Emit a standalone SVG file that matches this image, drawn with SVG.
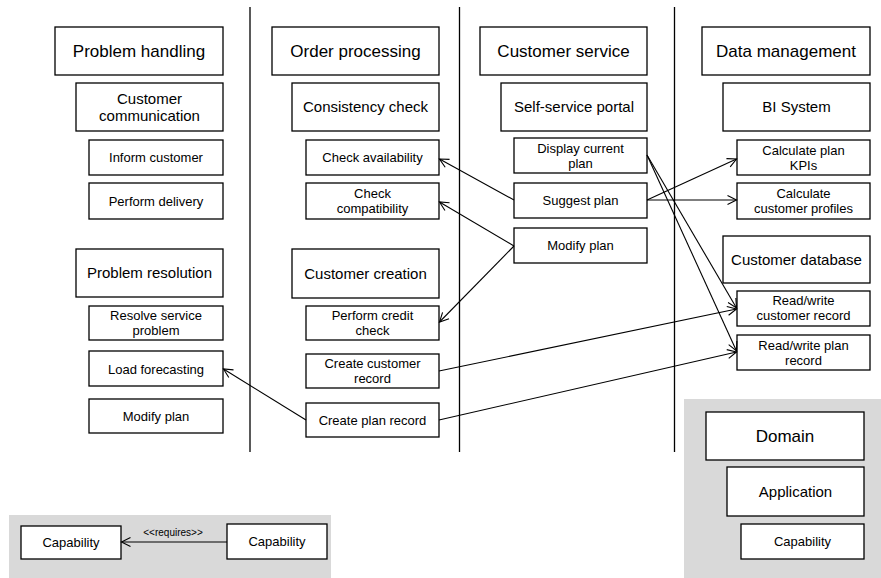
<svg xmlns="http://www.w3.org/2000/svg" width="881" height="578" viewBox="0 0 881 578">
<style>
.box{fill:#fff;stroke:#000;stroke-width:1.3}
.t{font-family:"Liberation Sans",Arial,sans-serif;fill:#000;text-anchor:middle}
.t1{font-size:17px}
.t2{font-size:15px}
.t3{font-size:13px}
.lane{stroke:#000;stroke-width:1.3}
.c{fill:none;stroke:#000;stroke-width:1.1;marker-end:url(#a)}
.bg{fill:#d9d9d9}
</style>
<defs>
<marker id="a" markerUnits="userSpaceOnUse" markerWidth="12" markerHeight="12" viewBox="-10 -6 12 12" refX="0" refY="0" orient="auto">
<path d="M-9,-4.5 L0,0 L-9,4.5" fill="none" stroke="#000" stroke-width="1.1"/>
</marker>
</defs>
<rect width="881" height="578" fill="#fff"/>
<g id="lanes">
<line class="lane" x1="250" y1="7" x2="250" y2="452"/>
<line class="lane" x1="459.5" y1="7" x2="459.5" y2="452"/>
<line class="lane" x1="674.5" y1="7" x2="674.5" y2="452"/>
</g>
<g id="legend-bg">
<rect class="bg" x="9" y="515" width="322" height="63"/>
<rect class="bg" x="684" y="399" width="197" height="179"/>
</g>
<g id="problem-handling"><rect class="box" x="55" y="27" width="168" height="48"/><text class="t t1" x="139" y="57">Problem handling</text></g>
<g id="customer-communication"><rect class="box" x="76" y="83" width="147" height="48"/><text class="t t2" x="149.5" y="103.5">Customer</text><text class="t t2" x="149.5" y="120.5">communication</text></g>
<g id="inform-customer"><rect class="box" x="89" y="140" width="134" height="35"/><text class="t t3" x="156" y="162">Inform customer</text></g>
<g id="perform-delivery"><rect class="box" x="89" y="183" width="134" height="36"/><text class="t t3" x="156" y="205.5">Perform delivery</text></g>
<g id="problem-resolution"><rect class="box" x="76" y="249" width="147" height="48"/><text class="t t2" x="149.5" y="278">Problem resolution</text></g>
<g id="resolve-service-problem"><rect class="box" x="89" y="306" width="134" height="34"/><text class="t t3" x="156" y="320">Resolve service</text><text class="t t3" x="156" y="335">problem</text></g>
<g id="load-forecasting"><rect class="box" x="89" y="351" width="134" height="35"/><text class="t t3" x="156" y="373.5">Load forecasting</text></g>
<g id="modify-plan-left"><rect class="box" x="89" y="399" width="134" height="34"/><text class="t t3" x="156" y="420.5">Modify plan</text></g>

<g id="order-processing"><rect class="box" x="272" y="27" width="167" height="48"/><text class="t t1" x="355.5" y="57">Order processing</text></g>
<g id="consistency-check"><rect class="box" x="292" y="83" width="147" height="48"/><text class="t t2" x="365.5" y="112">Consistency check</text></g>
<g id="check-availability"><rect class="box" x="306" y="140" width="133" height="35"/><text class="t t3" x="372.5" y="162">Check availability</text></g>
<g id="check-compatibility"><rect class="box" x="306" y="183" width="133" height="36"/><text class="t t3" x="372.5" y="198">Check</text><text class="t t3" x="372.5" y="213">compatibility</text></g>
<g id="customer-creation"><rect class="box" x="292" y="249" width="147" height="49"/><text class="t t2" x="365.5" y="278.5">Customer creation</text></g>
<g id="perform-credit-check"><rect class="box" x="306" y="306" width="133" height="34"/><text class="t t3" x="372.5" y="320">Perform credit</text><text class="t t3" x="372.5" y="335">check</text></g>
<g id="create-customer-record"><rect class="box" x="306" y="354" width="133" height="34"/><text class="t t3" x="372.5" y="368">Create customer</text><text class="t t3" x="372.5" y="383">record</text></g>
<g id="create-plan-record"><rect class="box" x="306" y="403" width="133" height="34"/><text class="t t3" x="372.5" y="424.5">Create plan record</text></g>

<g id="customer-service"><rect class="box" x="480" y="27" width="167" height="48"/><text class="t t1" x="563.5" y="57">Customer service</text></g>
<g id="self-service-portal"><rect class="box" x="501" y="83" width="146" height="48"/><text class="t t2" x="574" y="112">Self-service portal</text></g>
<g id="display-current-plan"><rect class="box" x="514" y="138" width="133" height="35"/><text class="t t3" x="580.5" y="152.5">Display current</text><text class="t t3" x="580.5" y="167.5">plan</text></g>
<g id="suggest-plan"><rect class="box" x="514" y="183" width="133" height="35"/><text class="t t3" x="580.5" y="205">Suggest plan</text></g>
<g id="modify-plan"><rect class="box" x="514" y="228" width="133" height="35"/><text class="t t3" x="580.5" y="250">Modify plan</text></g>

<g id="data-management"><rect class="box" x="702" y="27" width="168" height="48"/><text class="t t1" x="786" y="57">Data management</text></g>
<g id="bi-system"><rect class="box" x="723" y="83" width="147" height="48"/><text class="t t2" x="796.5" y="112">BI System</text></g>
<g id="calculate-plan-kpis"><rect class="box" x="737" y="140" width="133" height="35"/><text class="t t3" x="803.5" y="154.5">Calculate plan</text><text class="t t3" x="803.5" y="169.5">KPIs</text></g>
<g id="calculate-customer-profiles"><rect class="box" x="737" y="183" width="133" height="36"/><text class="t t3" x="803.5" y="198">Calculate</text><text class="t t3" x="803.5" y="213">customer profiles</text></g>
<g id="customer-database"><rect class="box" x="723" y="236" width="147" height="47"/><text class="t t2" x="796.5" y="264.5">Customer database</text></g>
<g id="rw-customer-record"><rect class="box" x="737" y="291" width="133" height="35"/><text class="t t3" x="803.5" y="305">Read/write</text><text class="t t3" x="803.5" y="320">customer record</text></g>
<g id="rw-plan-record"><rect class="box" x="737" y="335" width="133" height="35"/><text class="t t3" x="803.5" y="349.5">Read/write plan</text><text class="t t3" x="803.5" y="364.5">record</text></g>

<g id="legend-domain"><rect class="box" x="706" y="412" width="158" height="48"/><text class="t t1" x="785" y="442">Domain</text></g>
<g id="legend-application"><rect class="box" x="727" y="467" width="137" height="49"/><text class="t t2" x="795.5" y="496.5">Application</text></g>
<g id="legend-capability"><rect class="box" x="741" y="524" width="123" height="35"/><text class="t t3" x="802.5" y="546">Capability</text></g>
<g id="legend-cap-left"><rect class="box" x="21" y="526" width="100" height="33"/><text class="t t3" x="71" y="547">Capability</text></g>
<g id="legend-cap-right"><rect class="box" x="227" y="524" width="100" height="35"/><text class="t t3" x="277" y="546">Capability</text></g>

<g id="connectors">
<line class="c" x1="514" y1="200" x2="439.5" y2="159"/>
<line class="c" x1="514" y1="246" x2="439.5" y2="202"/>
<line class="c" x1="514" y1="246" x2="439.5" y2="322"/>
<line class="c" x1="647" y1="200" x2="736.5" y2="159"/>
<line class="c" x1="647" y1="200" x2="736.5" y2="200"/>
<line class="c" x1="647" y1="155" x2="736.5" y2="308"/>
<line class="c" x1="647" y1="155" x2="736.5" y2="351"/>
<line class="c" x1="439" y1="371" x2="736.5" y2="309"/>
<line class="c" x1="439" y1="420" x2="736.5" y2="352"/>
<line class="c" x1="306" y1="420" x2="223.5" y2="369"/>
<line class="c" x1="227" y1="542" x2="121.5" y2="542"/>
<text class="t" x="173" y="536" font-size="10">&lt;&lt;requires&gt;&gt;</text>
</g>
</svg>
